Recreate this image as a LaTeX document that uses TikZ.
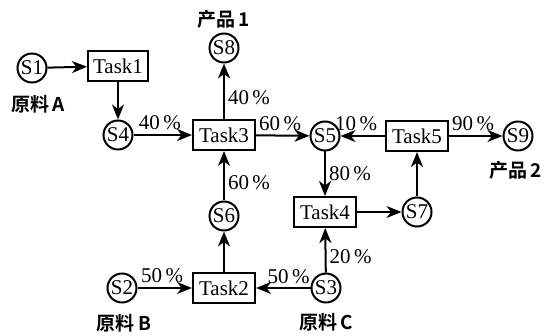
\documentclass[tikz,border=0pt]{standalone}
\usepackage{fontspec}
\setmainfont{Liberation Serif}
\newfontfamily\cjk{Noto Sans CJK SC}[BoldFont={Noto Sans CJK SC Bold}]
\usetikzlibrary{arrows.meta}
\begin{document}
\begin{tikzpicture}[x=1pt,y=-1pt,
  st/.style={circle,draw,line width=2pt,minimum size=29pt,inner sep=0pt,font=\fontsize{21}{21}\selectfont},
  tk/.style={rectangle,draw,line width=2pt,minimum width=62pt,minimum height=30pt,inner sep=0pt,font=\fontsize{21}{21}\selectfont},
  ar/.style={line width=2pt,-{Stealth[length=15pt,width=12pt,inset=4.5pt]}},
  pc/.style={font=\fontsize{21}{21}\selectfont,inner sep=1pt},
  cn/.style={font=\cjk\bfseries\fontsize{19}{19}\selectfont,inner sep=0pt}]
\useasboundingbox (0,0) rectangle (545,336);
% nodes
\node[st] (s1) at (32,68) {S1};
\node[tk,minimum width=60pt] (t1) at (118,66) {Task1};
\node[st] (s4) at (118,135) {S4};
\node[tk] (t3) at (224,135) {Task3};
\node[st] (s8) at (224,48) {S8};
\node[st] (s5) at (325,136) {S5};
\node[tk] (t5) at (417,136) {Task5};
\node[st] (s9) at (518,136) {S9};
\node[tk] (t4) at (325,212) {Task4};
\node[st] (s7) at (417,212) {S7};
\node[st] (s6) at (224,216) {S6};
\node[tk] (t2) at (224,288) {Task2};
\node[st] (s2) at (122,288) {S2};
\node[st] (s3) at (326,288) {S3};
% labels
\node[cn] (la) at (38,104) {原料\,A};
\node[cn] (l1) at (224,19) {产品\,1};
\node[cn] (l2) at (516,170) {产品\,2};
\node[cn] (lb) at (124,323) {原料\,B};
\node[cn] (lc) at (326,322) {原料\,C};
% edges
\draw[ar] (s1) -- (t1);
\draw[ar] (t1) -- (s4);
\draw[ar] (s4) -- node[pc,above,pos=0.45,yshift=3pt] {40\,\%} (t3);
\draw[ar] (t3) -- node[pc,right,xshift=2pt,pos=0.38] {40\,\%} (s8);
\draw[ar] (t3) -- node[pc,above,pos=0.45,yshift=3pt] {60\,\%} (s5);
\draw[ar] (t5) -- node[pc,above,pos=0.65,yshift=3pt] {10\,\%} (s5);
\draw[ar] (t5) -- node[pc,above,pos=0.45,yshift=3pt] {90\,\%} (s9);
\draw[ar] (s5) -- node[pc,right,xshift=2pt,pos=0.5] {80\,\%} (t4);
\draw[ar] (t4) -- (s7);
\draw[ar] (s7) -- (t5);
\draw[ar] (s6) -- node[pc,right,xshift=2pt,pos=0.36] {60\,\%} (t3);
\draw[ar] (t2) -- (s6);
\draw[ar] (s2) -- node[pc,above,pos=0.45,yshift=3pt] {50\,\%} (t2);
\draw[ar] (s3) -- node[pc,above,pos=0.4,yshift=2pt] {50\,\%} (t2);
\draw[ar] (s3) -- node[pc,right,xshift=2pt,pos=0.35] {20\,\%} (t4);
\end{tikzpicture}
\end{document}
